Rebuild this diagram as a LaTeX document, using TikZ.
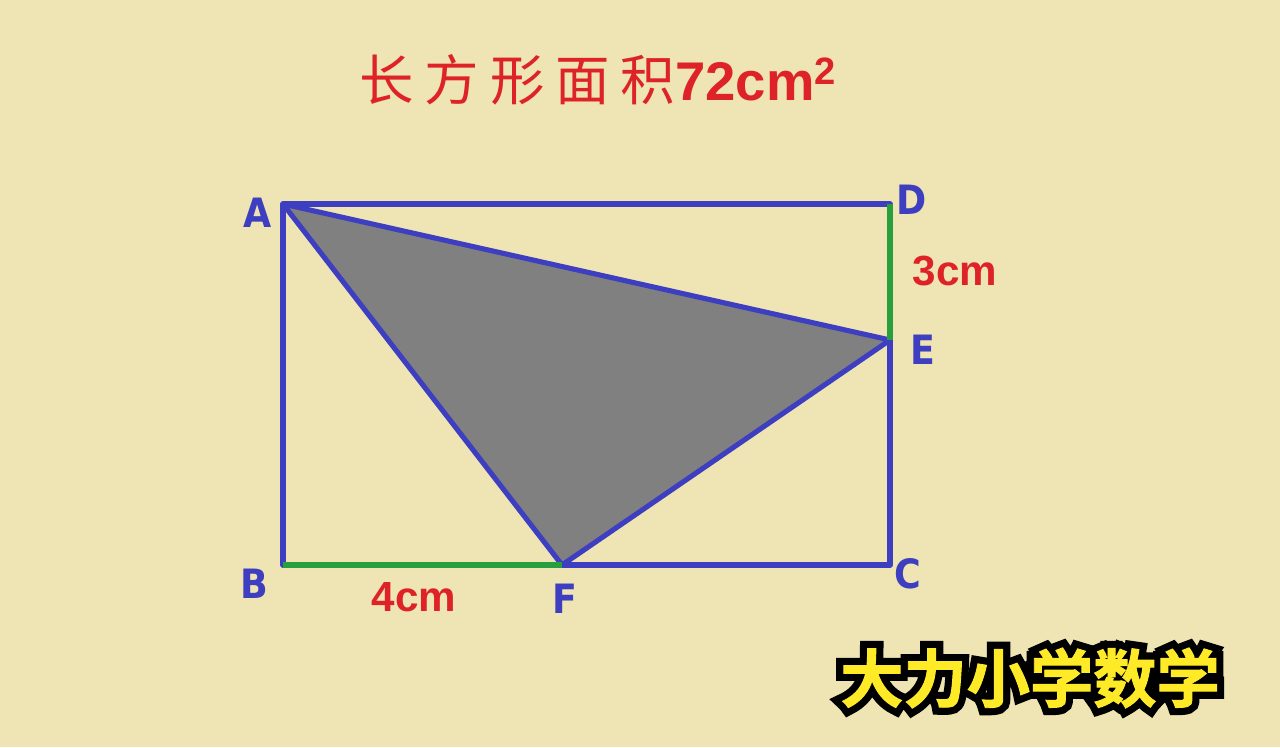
\documentclass[tikz,border=0pt]{standalone}
\usepackage{fontspec}
\setmainfont{Liberation Sans}
\newfontfamily\lblfont{DejaVu Sans Condensed}
\newfontfamily\cjk{Noto Sans CJK SC}[BoldFont={Noto Sans CJK SC Bold}]
\newfontfamily\cjkfill{Noto Sans CJK SC Bold}[FakeBold=1.5]
\newfontfamily\cjkfat{Noto Sans CJK SC Bold}[FakeBold=24]

\definecolor{bgcol}{RGB}{239,228,179}
\definecolor{edgeblue}{RGB}{62,62,192}
\definecolor{segGreen}{RGB}{40,158,62}
\definecolor{lblRed}{RGB}{222,35,40}
\definecolor{shadeGray}{RGB}{128,128,128}
\definecolor{wmYellow}{RGB}{255,234,40}

\tikzset{
  edge/.style={draw=edgeblue, line width=2.9pt, line join=round},
  seg/.style={draw=segGreen, line width=3pt},
  ptlabel/.style={text=edgeblue, font=\lblfont\bfseries\fontsize{23}{23}\selectfont},
  lenlabel/.style={text=lblRed, font=\bfseries\fontsize{24}{24}\selectfont},
  wmark/.style={font=\fontsize{36}{36}\selectfont}
}

\begin{document}
\begin{tikzpicture}[x=0.02cm, y=-0.02cm]

\fill[bgcol] (0,0) rectangle (1280,747);

\coordinate (A) at (283,204);
\coordinate (D) at (890,204);
\coordinate (B) at (283,565);
\coordinate (C) at (890,565);
\coordinate (E) at (890,340);
\coordinate (F) at (562,565);

\fill[shadeGray] (A) -- (E) -- (F) -- cycle;

\draw[edge] (A) -- (D) -- (C) -- (B) -- cycle;
\draw[edge] (A) -- (E) -- (F) -- cycle;
\draw[seg] (D) -- (E);
\draw[seg] (B) -- (F);

\node[ptlabel] (lA) at (258,213) {A};
\node[ptlabel] (lD) at (912,200) {D};
\node[ptlabel] (lE) at (923,350) {E};
\node[ptlabel] (lB) at (254,584) {B};
\node[ptlabel] (lC) at (908,574) {C};
\node[ptlabel] (lF) at (565,599) {F};

\node[lenlabel] (l3) at (955,271) {3cm};
\node[lenlabel] (l4) at (414,597) {4cm};

\node[text=lblRed] (title) at (598,80)
  {{\cjk\fontsize{31}{31}\selectfont 长\hspace{0.2em}方\hspace{0.2em}形\hspace{0.2em}面\hspace{0.2em}积}{\bfseries\fontsize{31}{31}\selectfont 72cm$^{\mathbf 2}$}};

% yellow text with a black rim
\node[wmark, text=black] (markrim) at (1030,678) {\cjkfat 大力小学数学};
\node[wmark, text=wmYellow] (mark) at (markrim.center) {\cjkfill 大力小学数学};

\end{tikzpicture}
\end{document}
